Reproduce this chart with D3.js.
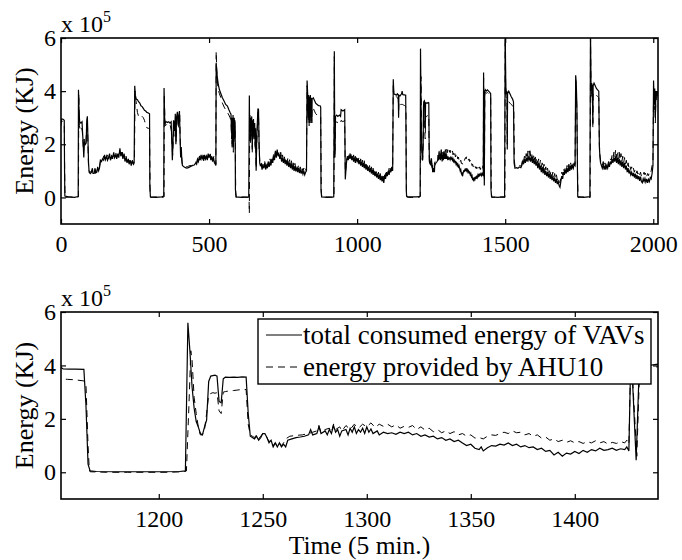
<!DOCTYPE html>
<html>
<head>
<meta charset="utf-8">
<script src="https://cdn.jsdelivr.net/npm/d3@7"></script>
<style>
  body { margin: 0; background: #fff; }
  svg { display: block; }
  svg text { font-family: 'Liberation Serif', 'Times New Roman', Times, Tinos, 'DejaVu Serif', serif; fill: #000; }
</style>
</head>
<body>
<svg id="chart" width="682" height="560"></svg>
<script>
// energy per 5 min slot, in units of 1e5 KJ, as [time index, value]
var vavEnergy = [
  [0,2.85],[1,2.95],[6,2.95],[11,2.9],[12,1.0],[13,0.05],[25,0.02],[45,0.0],[58,0.03],
  [59,4.05],[61,3.2],[63,2.85],[67,2.8],[71,2.85],[73,2.4],[75,2.0],[77,1.5],[79,2.1],[82,2.0],[85,2.05],[87,2.9],[89,3.05],[91,2.2],[93,1.3],[95,0.95],
  [99,0.9],[103,0.95],[106,1.1],[108,0.9],[112,0.9],[115,1.1],[117,0.92],[121,0.95],[124,1.15],[127,1.0],[130,1.1],
  [133,1.4],[137,1.35],[140,1.45],[144,1.4],[147,1.6],[150,1.42],[154,1.55],[157,1.4],[161,1.5],[164,1.65],[167,1.4],[171,1.55],[174,1.45],[178,1.7],[181,1.5],[185,1.6],[188,1.45],[192,1.65],[195,1.5],[199,1.85],[202,1.55],[206,1.7],[209,1.45],[213,1.65],[216,1.35],[220,1.5],[223,1.3],[227,1.45],[230,1.25],[234,1.4],[237,1.2],[241,1.35],[245,1.25],[247,1.3],
  [249,4.2],[251,3.85],[254,3.7],[258,3.68],[262,3.6],[266,3.55],[270,3.45],[274,3.42],[278,3.35],[282,3.28],[286,3.25],[290,3.2],[295,3.18],[299,3.15],[300,0.4],[302,0.02],[320,0.0],[340,0.02],[347,0.05],
  [348,4.12],[350,3.0],[352,2.8],[356,2.85],[360,2.82],[364,2.85],[368,2.8],[372,2.85],[374,2.2],[376,1.4],[378,2.0],[380,2.9],[382,2.85],[384,2.5],[386,3.15],[388,2.0],[390,3.0],[393,3.22],[396,2.7],[398,3.1],[400,3.25],[402,2.3],[404,1.5],[406,1.9],[408,1.4],[410,1.2],[415,1.15],[420,1.12],[425,1.1],[430,1.12],[435,1.15],[440,1.18],[445,1.2],[450,1.22],[455,1.3],[458,1.25],
  [461,1.45],[464,1.35],[467,1.5],[470,1.4],[473,1.6],[476,1.45],[479,1.55],[482,1.38],[485,1.6],[488,1.45],[491,1.55],[494,1.4],[497,1.65],[500,1.5],[503,1.62],[506,1.4],[509,1.55],[512,1.35],[515,1.5],[518,1.3],[521,1.25],[523,1.2],
  [524,5.07],[527,4.6],[531,4.25],[535,4.05],[540,3.9],[545,3.75],[551,3.62],[556,3.5],[562,3.44],[567,3.3],[571,3.2],[574,3.13],[576,2.4],[577,3.0],[578,2.0],[579,2.9],[580,2.3],[581,3.1],[582,1.9],[583,2.8],[584,2.2],[585,3.0],[586,2.5],[587,2.9],[588,2.8],[589,0.3],[591,0.02],[610,0.0],[634,0.02],
  [636,3.84],[637,2.6],[638,3.1],[640,2.2],[641,3.0],[643,2.5],[644,3.05],[646,1.8],[647,2.9],[649,2.4],[650,2.95],[652,2.3],[654,2.8],[656,1.9],[657,2.6],[659,1.0],[661,2.2],[663,2.8],[665,3.35],[667,3.3],[669,2.0],[671,1.3],[673,1.2],
  [676,1.25],[679,1.05],[682,1.2],[685,1.1],[688,1.3],[691,1.05],[694,1.2],[697,1.1],[700,1.3],[703,1.15],[706,1.35],[709,1.2],[712,1.45],[715,1.3],[718,1.55],[721,1.4],[724,1.75],[727,1.5],[730,1.8],[733,1.55],[736,1.65],[739,1.45],[742,1.6],[745,1.35],[748,1.5],[751,1.3],[754,1.45],[757,1.25],[760,1.4],[763,1.2],[766,1.38],[769,1.15],[772,1.3],[775,1.1],[778,1.28],[781,1.05],[784,1.2],[787,1.0],[790,1.18],[793,0.98],[796,1.12],[799,0.95],[802,1.1],[805,0.92],[808,1.05],[811,0.9],[814,1.02],[817,0.88],[820,1.0],[823,0.85],[826,0.95],[829,1.0],
  [831,4.4],[833,3.9],[835,3.0],[836,3.85],[838,2.8],[839,3.8],[841,2.9],[842,3.85],[844,3.0],[845,3.75],[847,2.85],[848,3.7],[852,3.75],[856,3.65],[860,3.55],[865,3.5],[870,3.45],[875,3.45],[877,3.4],[878,0.3],[880,0.02],[900,0.0],[921,0.02],
  [923,5.5],[924,3.0],[925,1.5],[927,3.05],[931,3.1],[935,3.05],[940,3.1],[944,3.05],[946,3.3],[952,3.25],[958,3.3],[960,0.68],[962,1.0],[964,1.3],
  [967,1.55],[970,1.4],[973,1.6],[976,1.45],[979,1.62],[982,1.4],[985,1.55],[988,1.35],[991,1.5],[994,1.3],[997,1.5],[1000,1.35],[1003,1.45],[1006,1.25],[1009,1.4],[1012,1.2],[1015,1.35],[1018,1.15],[1021,1.3],[1024,1.1],[1027,1.25],[1030,1.05],[1033,1.2],[1036,1.0],[1039,1.15],[1042,0.95],[1045,1.1],[1048,0.9],[1051,1.05],[1054,0.85],[1057,1.0],[1060,0.8],[1063,0.95],[1066,0.75],[1069,0.9],[1072,0.7],[1075,0.85],[1078,0.65],[1081,0.8],[1084,0.6],[1087,0.75],[1090,0.55],[1093,0.85],[1096,0.7],[1099,0.95],[1102,0.8],[1105,1.0],[1108,0.85],[1111,1.05],[1114,0.95],[1117,1.15],[1120,1.0],
  [1122,4.45],[1124,3.9],[1128,3.88],[1132,3.85],[1136,3.9],[1139,3.85],[1140,3.0],[1141,3.85],[1145,3.82],[1150,3.9],[1152,4.0],
  [1154,3.87],[1157,3.86],[1160,3.86],[1164,3.85],[1165,2.5],[1166,0.3],[1167,0.05],[1170,0.03],[1180,0.02],[1190,0.02],[1200,0.02],[1210,0.03],[1212.8,0.05],
  [1214,5.6],[1215,4.5],[1216,3.2],[1217,2.4],[1218,1.9],[1219,1.7],[1220,1.45],[1221,1.4],[1222,1.7],[1223,1.95],[1224,3.4],[1225,3.6],[1226,3.62],[1227,3.64],[1228,3.6],[1229,2.65],[1230,2.6],[1231,3.5],[1232,3.56],[1234,3.55],[1236,3.56],[1238,3.55],[1240,3.57],[1242,3.56],[1243,2.2],[1244,1.35],
  [1245,1.3],[1246,1.25],[1247,1.35],[1248,1.2],[1249,1.3],[1250,1.45],[1251,1.45],[1252,1.3],[1253,1.1],[1254,1.2],[1255,0.95],[1256,1.1],[1257,0.95],[1258,1.1],[1259,0.95],[1260,1.05],[1261,0.95],[1262,1.2],[1264,1.25],[1266,1.3],[1268,1.32],[1270,1.35],[1272,1.4],[1273,1.6],[1274,1.4],[1276,1.45],[1277,1.7],[1278,1.45],[1280,1.55],[1281,1.4],[1282,1.6],[1283,1.45],[1284,1.75],[1285,1.5],[1286,1.6],[1287,1.35],[1288,1.55],[1290,1.6],[1291,1.4],[1292,1.65],[1293,1.5],[1294,1.7],[1295,1.45],[1296,1.6],
  [1297,1.5],[1298,1.65],[1299,1.45],[1300,1.7],[1301,1.5],[1302,1.62],[1303,1.45],[1305,1.55],[1306,1.4],[1308,1.5],[1310,1.45],[1312,1.48],[1314,1.42],[1316,1.5],[1318,1.45],[1320,1.5],[1322,1.4],[1324,1.45],[1326,1.35],[1328,1.4],[1330,1.32],[1332,1.35],[1334,1.25],[1336,1.3],[1338,1.2],[1340,1.25],[1342,1.15],[1344,1.2],[1346,1.1],[1348,1.0],[1350,1.05],[1352,0.9],[1354,0.85],[1355,0.95],[1356,0.8],[1358,0.92],[1360,1.0],[1362,0.98],[1364,1.05],[1366,1.02],[1368,1.1],[1370,1.0],[1372,1.05],[1374,0.95],[1376,1.0],[1378,0.92],[1380,0.95],[1382,0.85],[1384,0.9],[1386,0.78],[1388,0.82],[1390,0.65],[1392,0.75],[1394,0.6],[1396,0.72],[1398,0.68],[1400,0.78],[1402,0.7],[1404,0.82],[1406,0.75],[1408,0.85],[1410,0.8],[1412,0.9],[1414,0.82],[1416,0.85],[1418,0.9],[1420,0.82],[1422,0.88],[1424,0.85],[1425,0.95],[1426,0.8],
  [1427,4.7],[1428,3.0],[1429.5,0.45],[1431,4.0],[1433,4.05],[1436,4.0],[1440,4.05],[1444,4.0],[1448,3.95],[1451,3.9],[1452,0.3],[1454,0.02],[1475,0.0],[1498,0.03],
  [1500,6.3],[1502,4.2],[1504,3.95],[1506,4.0],[1507,1.8],[1508,3.9],[1512,4.0],[1516,3.9],[1520,3.8],[1525,3.7],[1528,3.6],[1530,1.3],[1533,1.1],[1538,1.12],[1543,1.1],[1548,1.15],[1553,1.12],[1556,1.2],
  [1559,1.35],[1562,1.25],[1565,1.45],[1568,1.3],[1571,1.5],[1574,1.35],[1577,1.55],[1580,1.4],[1583,1.5],[1586,1.35],[1589,1.55],[1592,1.3],[1595,1.45],[1598,1.25],[1601,1.4],[1604,1.2],[1607,1.35],[1610,1.1],[1613,1.3],[1616,1.05],[1619,1.2],[1622,0.95],[1625,1.15],[1628,0.9],[1631,1.1],[1634,0.85],[1637,1.0],[1640,0.8],[1643,0.95],[1646,0.75],[1649,0.9],[1652,0.7],[1655,0.85],[1658,0.65],[1661,0.8],[1664,0.6],[1667,0.75],[1670,0.55],[1673,0.7],[1676,0.5],[1679,0.6],[1682,0.45],[1685,0.38],[1688,0.6],[1691,0.8],[1694,0.7],[1697,0.95],[1700,0.85],[1703,1.05],[1706,0.9],[1709,1.1],[1712,0.95],[1715,1.15],[1718,1.0],[1721,1.2],[1724,1.05],[1727,1.2],[1730,1.1],[1733,1.25],[1736,1.2],
  [1738,4.6],[1740,4.3],[1742,3.5],[1744,1.0],[1745,0.03],[1765,0.0],[1786,0.03],
  [1788,6.3],[1790,4.0],[1792,4.3],[1794,4.2],[1796,2.8],[1797,4.2],[1800,4.3],[1804,4.2],[1808,4.1],[1812,4.05],[1816,4.0],[1818,1.9],[1820,1.5],[1822,1.3],[1825,1.2],[1828,1.1],[1831,1.25],[1834,1.05],[1837,1.2],[1840,1.05],[1843,1.2],[1846,1.1],[1849,1.25],[1852,1.15],[1855,1.35],
  [1858,1.25],[1861,1.45],[1864,1.3],[1867,1.5],[1870,1.35],[1873,1.55],[1876,1.3],[1879,1.5],[1882,1.25],[1885,1.45],[1888,1.2],[1891,1.4],[1894,1.15],[1897,1.35],[1900,1.1],[1903,1.3],[1906,1.05],[1909,1.2],[1912,0.95],[1915,1.1],[1918,0.9],[1921,1.0],[1924,0.85],[1927,0.95],[1930,0.8],[1933,0.92],[1936,0.75],[1939,0.9],[1942,0.7],[1945,0.85],[1948,0.68],[1951,0.8],[1954,0.62],[1957,0.78],[1960,0.6],[1963,0.55],[1966,0.7],[1969,0.6],[1972,0.72],[1975,0.58],[1978,0.7],[1981,0.55],[1984,0.68],[1987,0.6],[1990,0.75],[1993,0.7],[1996,0.9],[1999,1.2],
  [2001,4.4],[2003,3.5],[2005,4.1],[2007,3.0],[2009,4.0],[2011,3.8],[2013,4.0],[2016,3.9]
];

var ahuEnergy = [
  [0,2.7],[2,2.9],[6,2.85],[11,2.8],[13,0.3],[14,0.0],[30,0.02],[50,0.0],[59,0.02],
  [60,3.9],[62,2.7],[64,2.6],[68,2.7],[72,2.5],[74,2.1],[76,1.7],[78,2.2],[81,1.95],[84,2.0],[87,2.8],[89,2.9],[91,2.0],[93,1.1],[95,1.0],
  [99,0.95],[103,1.0],[106,1.05],[108,0.95],[112,0.95],[115,1.05],[117,0.95],[121,1.0],[124,1.1],[127,1.05],[130,1.15],
  [133,1.35],[137,1.45],[140,1.4],[144,1.55],[147,1.45],[150,1.5],[154,1.45],[157,1.6],[161,1.45],[164,1.55],[167,1.5],[171,1.6],[174,1.5],[178,1.6],[181,1.55],[185,1.7],[188,1.5],[192,1.6],[195,1.55],[199,1.7],[202,1.6],[206,1.8],[209,1.55],[213,1.6],[216,1.45],[220,1.55],[223,1.35],[227,1.5],[230,1.3],[234,1.45],[237,1.3],[241,1.4],[245,1.3],[248,1.35],
  [250,4.0],[252,3.7],[255,3.5],[258,3.2],[262,3.05],[266,3.0],[270,3.0],[274,3.05],[278,3.0],[282,2.9],[286,2.7],[290,2.62],[295,2.6],[299,2.6],[301,0.2],[303,0.0],[320,0.02],[340,0.0],[348,0.02],
  [349,3.9],[351,2.8],[353,2.7],[357,2.75],[361,2.7],[365,2.75],[369,2.7],[373,2.5],[375,2.0],[377,1.6],[379,2.2],[381,2.7],[383,2.75],[385,2.3],[387,3.0],[389,2.1],[391,2.9],[394,3.1],[397,2.6],[399,2.9],[401,3.1],[403,2.0],[405,1.6],[407,1.7],[409,1.3],[411,1.2],[416,1.2],[421,1.15],[426,1.15],[431,1.18],[436,1.2],[441,1.2],[446,1.25],[451,1.28],[456,1.35],[459,1.3],
  [462,1.5],[465,1.4],[468,1.55],[471,1.45],[474,1.55],[477,1.5],[480,1.6],[483,1.45],[486,1.55],[489,1.5],[492,1.6],[495,1.45],[498,1.6],[501,1.55],[504,1.65],[507,1.45],[510,1.6],[513,1.4],[516,1.55],[519,1.35],[522,1.3],[523,1.25],
  [524,5.5],[526,4.8],[530,4.1],[535,3.9],[540,3.75],[545,3.55],[551,3.4],[556,3.3],[562,3.2],[567,3.1],[571,3.0],[574,2.9],[576,2.2],[577,2.8],[578,1.8],[579,2.7],[580,2.1],[581,2.9],[582,1.7],[583,2.6],[584,2.0],[585,2.8],[586,2.3],[587,2.7],[588,2.6],[590,0.2],[592,0.0],[610,0.02],[635,0.0],
  [636,-0.6],[637,2.4],[638,2.9],[640,2.0],[641,2.8],[643,2.3],[644,2.9],[646,1.7],[647,2.7],[649,2.2],[650,2.8],[652,2.1],[654,2.6],[656,1.8],[657,2.4],[659,1.1],[661,2.0],[663,2.6],[665,3.2],[667,3.1],[669,1.8],[671,1.4],[673,1.25],
  [676,1.3],[679,1.15],[682,1.25],[685,1.2],[688,1.35],[691,1.15],[694,1.3],[697,1.2],[700,1.35],[703,1.25],[706,1.45],[709,1.3],[712,1.5],[715,1.4],[718,1.65],[721,1.5],[724,1.7],[727,1.6],[730,1.75],[733,1.6],[736,1.7],[739,1.55],[742,1.7],[745,1.45],[748,1.6],[751,1.4],[754,1.55],[757,1.35],[760,1.5],[763,1.3],[766,1.48],[769,1.25],[772,1.42],[775,1.2],[778,1.38],[781,1.15],[784,1.3],[787,1.1],[790,1.28],[793,1.08],[796,1.22],[799,1.05],[802,1.2],[805,1.02],[808,1.15],[811,1.0],[814,1.12],[817,0.98],[820,1.1],[823,0.95],[826,1.05],[829,1.1],
  [831,4.2],[833,3.7],[835,2.9],[836,3.6],[838,2.7],[839,3.6],[841,2.8],[842,3.6],[844,2.9],[845,3.5],[847,2.8],[848,3.4],[852,3.35],[856,3.25],[860,3.15],[865,3.1],[870,3.1],[875,3.05],[877,3.05],[879,0.2],[881,0.0],[900,0.02],[922,0.0],
  [923,5.3],[924,2.8],[925,1.6],[927,2.8],[931,2.85],[935,2.8],[940,2.85],[944,2.8],[946,2.9],[952,2.85],[958,2.9],[960,0.9],[962,1.1],[964,1.4],
  [967,1.5],[970,1.55],[973,1.45],[976,1.65],[979,1.5],[982,1.6],[985,1.45],[988,1.6],[991,1.4],[994,1.55],[997,1.4],[1000,1.55],[1003,1.35],[1006,1.5],[1009,1.3],[1012,1.45],[1015,1.25],[1018,1.4],[1021,1.2],[1024,1.38],[1027,1.15],[1030,1.3],[1033,1.1],[1036,1.25],[1039,1.05],[1042,1.2],[1045,1.0],[1048,1.15],[1051,0.95],[1054,1.1],[1057,0.9],[1060,1.05],[1063,0.85],[1066,1.0],[1069,0.8],[1072,0.95],[1075,0.75],[1078,0.9],[1081,0.72],[1084,0.85],[1087,0.7],[1090,0.8],[1093,0.7],[1096,0.9],[1099,0.8],[1102,1.0],[1105,0.9],[1108,1.1],[1111,0.95],[1114,1.1],[1117,1.0],[1120,1.1],
  [1122,4.3],[1124,3.85],[1128,3.8],[1132,3.8],[1136,3.75],[1139,3.7],[1140,3.1],[1141,3.6],[1145,3.5],[1150,3.5],
  [1153,3.5],[1156,3.48],[1160,3.46],[1164,3.42],[1165,3.3],[1166,1.0],[1166.6,0.1],[1167,0.02],[1175,0.0],[1185,0.0],[1195,0.0],[1205,0.0],[1212,0.02],[1213.3,0.05],
  [1214.5,2.5],[1215.4,4.55],[1216,4.2],[1217,2.8],[1218,2.2],[1219,1.7],[1220,1.4],[1221,1.4],[1222,1.6],[1223,2.2],[1224,2.9],[1225,2.95],[1226,2.98],[1227,2.96],[1228,2.98],[1229,2.3],[1230,2.2],[1231,3.0],[1232,3.02],[1234,3.05],[1236,3.06],[1238,3.08],[1240,3.1],[1242,3.1],[1243,1.8],[1244,1.4],
  [1245,1.35],[1246,1.3],[1247,1.4],[1248,1.25],[1249,1.35],[1250,1.45],[1251,1.4],[1252,1.3],[1253,1.15],[1254,1.2],[1255,1.0],[1256,1.1],[1257,1.0],[1258,1.1],[1259,1.0],[1260,1.1],[1261,1.25],[1263,1.35],[1266,1.38],[1269,1.4],[1272,1.45],[1274,1.5],[1276,1.55],[1277,1.75],[1278,1.5],[1280,1.6],[1282,1.65],[1283,1.5],[1284,1.8],[1285,1.6],[1287,1.7],[1288,1.55],[1290,1.75],[1292,1.6],[1294,1.8],[1296,1.65],
  [1298,1.8],[1300,1.7],[1302,1.85],[1304,1.68],[1306,1.8],[1308,1.72],[1310,1.8],[1312,1.7],[1314,1.78],[1316,1.65],[1318,1.72],[1320,1.68],[1322,1.75],[1324,1.6],[1326,1.7],[1328,1.58],[1330,1.65],[1332,1.52],[1334,1.6],[1336,1.48],[1338,1.55],[1340,1.45],[1342,1.52],[1344,1.4],[1346,1.45],[1348,1.35],[1350,1.4],[1352,1.28],[1354,1.3],[1356,1.25],[1358,1.35],[1360,1.4],[1362,1.38],[1364,1.45],[1366,1.5],[1368,1.45],[1370,1.55],[1372,1.48],[1374,1.5],[1376,1.4],[1378,1.45],[1380,1.35],[1382,1.4],[1384,1.28],[1386,1.32],[1388,1.2],[1390,1.25],[1392,1.15],[1394,1.2],[1396,1.12],[1398,1.18],[1400,1.1],[1402,1.15],[1404,1.08],[1406,1.15],[1408,1.1],[1410,1.18],[1412,1.1],[1414,1.15],[1416,1.05],[1418,1.12],[1420,1.08],[1422,1.15],[1424,1.1],[1425,1.2],[1426,1.05],
  [1427,4.5],[1428,3.2],[1429.8,0.6],[1431.2,3.9],[1433,3.95],[1436,3.92],[1440,3.95],[1444,3.9],[1448,3.85],[1451,3.8],[1453,0.2],[1455,0.0],[1475,0.02],[1499,0.0],
  [1500,6.2],[1502,3.8],[1504,3.7],[1506,3.6],[1507,2.0],[1508,3.5],[1512,3.6],[1516,3.55],[1520,3.5],[1525,3.45],[1529,3.4],[1531,1.4],[1533,1.15],[1538,1.15],[1543,1.15],[1548,1.2],[1553,1.18],[1556,1.25],
  [1559,1.45],[1562,1.35],[1565,1.55],[1568,1.4],[1571,1.65],[1574,1.45],[1577,1.75],[1580,1.5],[1583,1.85],[1586,1.55],[1589,1.7],[1592,1.45],[1595,1.65],[1598,1.4],[1601,1.6],[1604,1.35],[1607,1.5],[1610,1.3],[1613,1.45],[1616,1.2],[1619,1.4],[1622,1.15],[1625,1.3],[1628,1.05],[1631,1.25],[1634,1.0],[1637,1.15],[1640,0.95],[1643,1.1],[1646,0.9],[1649,1.05],[1652,0.85],[1655,1.0],[1658,0.8],[1661,0.95],[1664,0.75],[1667,0.9],[1670,0.7],[1673,0.85],[1676,0.65],[1679,0.75],[1682,0.6],[1685,0.55],[1688,0.75],[1691,0.95],[1694,0.85],[1697,1.1],[1700,0.95],[1703,1.15],[1706,1.0],[1709,1.2],[1712,1.05],[1715,1.25],[1718,1.1],[1721,1.3],[1724,1.15],[1727,1.3],[1730,1.2],[1733,1.3],[1736,1.25],
  [1738,4.4],[1740,4.1],[1742,3.3],[1744,1.2],[1746,0.0],[1765,0.02],[1787,0.0],
  [1788,6.2],[1790,3.8],[1792,4.0],[1794,3.9],[1796,2.6],[1797,3.9],[1800,3.95],[1804,3.9],[1808,3.85],[1812,3.8],[1816,3.75],[1818,2.0],[1820,1.6],[1822,1.4],[1825,1.3],[1828,1.2],[1831,1.35],[1834,1.15],[1837,1.3],[1840,1.15],[1843,1.3],[1846,1.2],[1849,1.35],[1852,1.25],[1855,1.45],
  [1858,1.4],[1861,1.6],[1864,1.45],[1867,1.7],[1870,1.5],[1873,1.8],[1876,1.5],[1879,1.75],[1882,1.45],[1885,1.7],[1888,1.4],[1891,1.65],[1894,1.35],[1897,1.55],[1900,1.3],[1903,1.5],[1906,1.25],[1909,1.4],[1912,1.15],[1915,1.3],[1918,1.1],[1921,1.2],[1924,1.05],[1927,1.15],[1930,1.0],[1933,1.1],[1936,0.95],[1939,1.05],[1942,0.9],[1945,1.0],[1948,0.88],[1951,0.98],[1954,0.85],[1957,0.95],[1960,0.8],[1963,0.9],[1966,0.85],[1969,0.95],[1972,0.85],[1975,0.95],[1978,0.8],[1981,0.9],[1984,0.82],[1987,0.95],[1990,0.9],[1993,1.0],[1996,1.2],[1999,1.4],
  [2001,4.0],[2003,3.3],[2005,3.9],[2007,2.8],[2009,3.8],[2011,3.6],[2013,3.9],[2016,3.8]
];

var fullRange = [0, 2016];
var zoomRange = [1153, 1440];
var energyRange = [-1, 6];
var fullTicks = [0, 500, 1000, 1500, 2000];
var zoomTicks = [1200, 1250, 1300, 1350, 1400];
var energyTicks = [0, 2, 4, 6];
var seriesNames = ["total consumed energy of VAVs", "energy provided by AHU10"];

var FONT = "'Liberation Serif', 'Times New Roman', Times, Tinos, 'DejaVu Serif', serif";
var svg = d3.select("#chart");
var left = 61, right = 658;

function drawPanel(id, top, bottom, xDomain, xTicks) {
	var x = d3.scaleLinear().domain(xDomain).range([left, right]);
	var y = d3.scaleLinear().domain(energyRange).range([bottom, top]);
	var g = svg.append("g");

	g.append("clipPath").attr("id", "clip-" + id)
		.append("rect").attr("x", left).attr("y", top)
		.attr("width", right - left).attr("height", bottom - top);

	var line = d3.line().x(function(d) { return x(d[0]); }).y(function(d) { return y(d[1]); });
	var plot = g.append("g").attr("clip-path", "url(#clip-" + id + ")");

	plot.append("path").datum(ahuEnergy)
		.attr("d", line).attr("fill", "none")
		.attr("stroke", "#000").attr("stroke-width", 1)
		.attr("stroke-dasharray", "7,5");
	plot.append("path").datum(vavEnergy)
		.attr("d", line).attr("fill", "none")
		.attr("stroke", "#000").attr("stroke-width", 1.2);

	// MATLAB style box with inward ticks on all sides
	var fmt = d3.format("d");
	var bx = g.append("g").attr("transform", "translate(0," + bottom + ")")
		.call(d3.axisBottom(x).tickValues(xTicks).tickFormat(fmt).tickSizeInner(-5).tickSizeOuter(0).tickPadding(11));
	var tx = g.append("g").attr("transform", "translate(0," + top + ")")
		.call(d3.axisTop(x).tickValues(xTicks).tickSizeInner(-5).tickSizeOuter(0).tickFormat(""));
	var ly = g.append("g").attr("transform", "translate(" + left + ",0)")
		.call(d3.axisLeft(y).tickValues(energyTicks).tickFormat(fmt).tickSizeInner(-5).tickSizeOuter(0).tickPadding(5));
	var ry = g.append("g").attr("transform", "translate(" + right + ",0)")
		.call(d3.axisRight(y).tickValues(energyTicks).tickSizeInner(-5).tickSizeOuter(0).tickFormat(""));

	[bx, tx, ly, ry].forEach(function(a) {
		a.attr("font-family", FONT).attr("font-size", 24);
		a.select(".domain").remove();
		a.selectAll("line").attr("stroke", "#000").attr("stroke-width", 1.2);
		a.selectAll("text").attr("fill", "#000");
	});

	g.append("rect").attr("x", left).attr("y", top)
		.attr("width", right - left).attr("height", bottom - top)
		.attr("fill", "none").attr("stroke", "#000").attr("stroke-width", 1.6);

	// exponent label
	var ex = g.append("text").attr("x", 61).attr("y", top - 6).attr("font-size", 24);
	ex.append("tspan").text("x 10");
	ex.append("tspan").attr("font-size", 16).attr("dy", -10).text("5");

	g.append("text")
		.attr("transform", "translate(33," + ((top + bottom) / 2) + ") rotate(-90)")
		.attr("text-anchor", "middle").attr("font-size", 26)
		.text("Energy (KJ)");

	return { x: x, y: y, g: g };
}

drawPanel("full", 38, 224, fullRange, fullTicks);
drawPanel("zoom", 312, 499, zoomRange, zoomTicks);

svg.append("text").attr("x", (left + right) / 2).attr("y", 554)
	.attr("text-anchor", "middle").attr("font-size", 25.5)
	.text("Time (5 min.)");

// legend
var legend = svg.append("g");
legend.append("rect").attr("x", 258).attr("y", 319).attr("width", 393).attr("height", 65)
	.attr("fill", "#fff").attr("stroke", "#000").attr("stroke-width", 1.4);
var rows = [{ y: 335, dash: null }, { y: 367, dash: "7,5" }];
rows.forEach(function(r, i) {
	legend.append("line").attr("x1", 266).attr("x2", 302).attr("y1", r.y).attr("y2", r.y)
		.attr("stroke", "#000").attr("stroke-width", 1)
		.attr("stroke-dasharray", r.dash);
	legend.append("text").attr("x", 303).attr("y", r.y + 9).attr("font-size", 27)
		.text(seriesNames[i]);
});
</script>
</body>
</html>
